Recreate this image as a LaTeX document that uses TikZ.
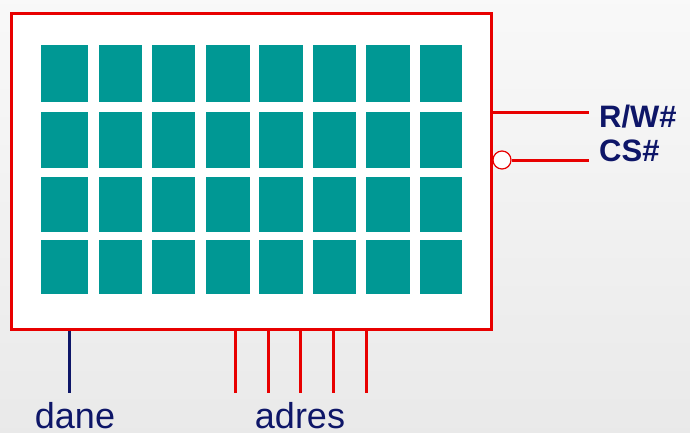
\documentclass[tikz,border=0pt]{standalone}
\usepackage{fontspec}
\setmainfont{Liberation Sans}
\usetikzlibrary{positioning}
\definecolor{memred}{RGB}{232,0,0}
\definecolor{memteal}{RGB}{0,152,148}
\definecolor{memblue}{RGB}{14,22,104}

\begin{document}
\begin{tikzpicture}[x=1pt,y=-1pt]
        \tikzstyle{chip}=[rectangle,draw=memred,line width=3pt,fill=white,minimum width=480pt,minimum height=316pt,inner sep=0pt]
        \tikzstyle{cell}=[fill=memteal]
        \tikzstyle{pin}=[draw=memred,line width=3pt]
        \tikzstyle{bus}=[draw=memblue,line width=3pt]
        \tikzstyle{neg}=[circle,draw=memred,line width=1.2pt,fill=white,minimum size=18pt,inner sep=0pt]
        \tikzstyle{signal}=[text=memblue,font=\bfseries\fontsize{31}{31}\selectfont,anchor=base west,inner sep=0pt]
        \tikzstyle{port}=[text=memblue,font=\fontsize{36}{36}\selectfont,anchor=base,inner sep=0pt]
        \useasboundingbox (0,0) rectangle (690,432);
        \shade[top color=gray!5,bottom color=gray!17] (0,0) rectangle (690,432);
        \node[chip] (mem) at (251,171) {};
        \foreach \l/\r in {41/88,99/142,152/195,206/250,259/303,313/356,366/410,420/462}
          \foreach \t/\b in {45/102,112/168,177/232,240/294}
            \fill[cell] (\l,\t) rectangle (\r,\b);
        \coordinate (rw) at (589,112);
        \coordinate (cs) at (589,160);
        \node[neg] (csneg) at (502,160) {};
        \draw[pin] (rw -| mem.east) -- (rw);
        \draw[pin] (csneg.east) -- (cs);
        \node[signal] (rwlbl) at (599,127) {R/W\#};
        \node[signal] (cslbl) at (599,161) {CS\#};
        \coordinate (d0) at (69,393);
        \draw[bus] (d0 |- mem.south) -- (d0);
        \foreach \x [count=\i] in {235,268,300,333,366} {
          \coordinate (a\i) at (\x,393);
          \draw[pin] (a\i |- mem.south) -- (a\i);
        }
        \node[port] (dane) at (75,428) {dane};
        \node[port] (adres) at (300,428) {adres};
\end{tikzpicture}
\end{document}
